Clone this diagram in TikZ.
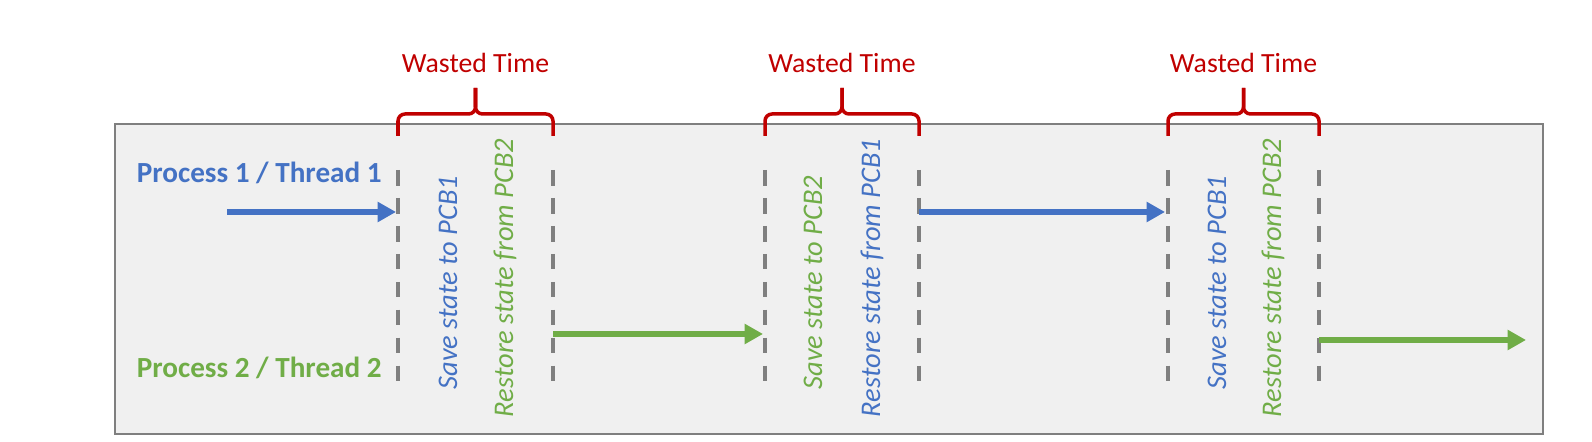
\documentclass[tikz,border=0pt]{standalone}
\usepackage{fontspec}
\setmainfont{Carlito}
\usepackage{tikz}
\usepackage{tkz-euclide}
\usetikzlibrary{arrows.meta}

\definecolor{procblue}{HTML}{4472C4}
\definecolor{procgreen}{HTML}{70AD47}
\definecolor{wastered}{HTML}{C00000}
\definecolor{dashgray}{HTML}{7F7F7F}
\definecolor{panelgray}{HTML}{F0F0F0}

\begin{document}
\begin{tikzpicture}[
    switchline/.style={dashgray, line width=2.3pt, dash pattern=on 8.9pt off 7pt},
    runarrow/.style={line width=3pt, -{Triangle[length=10.5pt,width=11pt]}},
    wbrace/.style={wastered, line width=2pt, rounded corners=4pt},
    proclabel/.style={font=\fontsize{16.6}{19}\selectfont\bfseries, anchor=east, inner sep=0pt},
    pcbtext/.style={font=\fontsize{16.2}{19}\selectfont\itshape, rotate=90, inner sep=0pt},
    wastetext/.style={wastered, font=\fontsize{15.8}{18}\selectfont, inner sep=0pt}]
    \useasboundingbox (0,0) rectangle (31.84,8.84);

    \tkzDefPoint(2.30,0.16){SW}
    \tkzDefPoint(30.86,6.36){NE}
    \draw[fill=panelgray, draw=dashgray, line width=1.2pt] (SW) rectangle (NE);

    \node[proclabel, procblue] (p1) at (7.64,5.38) {Process 1 / Thread 1};
    \node[proclabel, procgreen] (p2) at (7.64,1.48) {Process 2 / Thread 2};

    % first switch: 1 -> 2
    \tkzDefPoint(7.96,5.44){A}
    \tkzDefPoint(7.96,1.22){A'}
    \tkzDefPoint(11.06,5.44){B}
    \tkzDefPoint(11.06,1.22){B'}
    \draw[switchline] (A) -- (A');
    \draw[switchline] (B) -- (B');
    \tkzDefPoint(7.96,6.12){ba}
    \tkzDefPoint(11.06,6.12){bb}
    \tkzDefPoint(9.51,7.08){tip1}
    \draw[wbrace] (ba) |- ($(tip1)-(0,0.52)$) -- (tip1);
    \draw[wbrace] (bb) |- ($(tip1)-(0,0.52)$) -- (tip1);
    \node[wastetext] (w1) at (9.51,7.58) {Wasted Time};
    \node[pcbtext, procblue] (s1) at (8.96,3.19) {Save state to PCB1};
    \node[pcbtext, procgreen] (r1) at (10.10,3.28) {Restore state from PCB2};

    % second switch: 2 -> 1
    \tkzDefPoint(15.30,5.44){C}
    \tkzDefPoint(15.30,1.22){C'}
    \tkzDefPoint(18.38,5.44){D}
    \tkzDefPoint(18.38,1.22){D'}
    \draw[switchline] (C) -- (C');
    \draw[switchline] (D) -- (D');
    \tkzDefPoint(15.30,6.12){bc}
    \tkzDefPoint(18.38,6.12){bd}
    \tkzDefPoint(16.84,7.08){tip2}
    \draw[wbrace] (bc) |- ($(tip2)-(0,0.52)$) -- (tip2);
    \draw[wbrace] (bd) |- ($(tip2)-(0,0.52)$) -- (tip2);
    \node[wastetext] (w2) at (16.84,7.58) {Wasted Time};
    \node[pcbtext, procgreen] (s2) at (16.26,3.19) {Save state to PCB2};
    \node[pcbtext, procblue] (r2) at (17.44,3.28) {Restore state from PCB1};

    % third switch: 1 -> 2
    \tkzDefPoint(23.36,5.44){E}
    \tkzDefPoint(23.36,1.22){E'}
    \tkzDefPoint(26.38,5.44){F}
    \tkzDefPoint(26.38,1.22){F'}
    \draw[switchline] (E) -- (E');
    \draw[switchline] (F) -- (F');
    \tkzDefPoint(23.36,6.12){be}
    \tkzDefPoint(26.38,6.12){bf}
    \tkzDefPoint(24.87,7.08){tip3}
    \draw[wbrace] (be) |- ($(tip3)-(0,0.52)$) -- (tip3);
    \draw[wbrace] (bf) |- ($(tip3)-(0,0.52)$) -- (tip3);
    \node[wastetext] (w3) at (24.87,7.58) {Wasted Time};
    \node[pcbtext, procblue] (s3) at (24.34,3.19) {Save state to PCB1};
    \node[pcbtext, procgreen] (r3) at (25.46,3.28) {Restore state from PCB2};

    % running slices
    \tkzDefPoint(4.54,4.60){run1}
    \tkzDefPoint(7.92,4.60){stop1}
    \tkzDefPoint(11.06,2.16){run2}
    \tkzDefPoint(15.26,2.16){stop2}
    \tkzDefPoint(18.38,4.60){run3}
    \tkzDefPoint(23.30,4.60){stop3}
    \tkzDefPoint(26.38,2.04){run4}
    \tkzDefPoint(30.52,2.04){stop4}
    \draw[runarrow, procblue] (run1) -- (stop1);
    \draw[runarrow, procgreen] (run2) -- (stop2);
    \draw[runarrow, procblue] (run3) -- (stop3);
    \draw[runarrow, procgreen] (run4) -- (stop4);
\end{tikzpicture}
\end{document}
